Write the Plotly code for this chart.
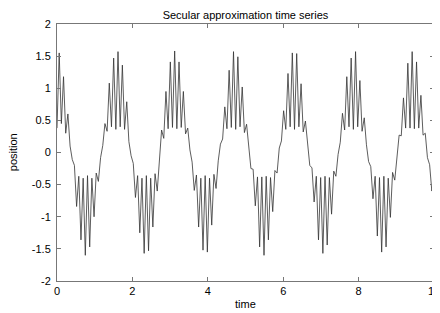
import plotly.graph_objects as go

# Sample times (extrema of the fast oscillation)
time = [
    0.000, 0.058, 0.116, 0.173, 0.231, 0.289, 0.347, 0.405, 0.462, 0.520,
    0.578, 0.636, 0.694, 0.751, 0.809, 0.867, 0.925, 0.983, 1.040, 1.098,
    1.156, 1.214, 1.272, 1.329, 1.387, 1.445, 1.503, 1.561, 1.618, 1.676,
    1.734, 1.792, 1.850, 1.907, 1.965, 2.023, 2.081, 2.139, 2.196, 2.254,
    2.312, 2.370, 2.428, 2.485, 2.543, 2.601, 2.659, 2.717, 2.774, 2.832,
    2.890, 2.948, 3.006, 3.063, 3.121, 3.179, 3.237, 3.295, 3.352, 3.410,
    3.468, 3.526, 3.584, 3.641, 3.699, 3.757, 3.815, 3.873, 3.930, 3.988,
    4.046, 4.104, 4.162, 4.219, 4.277, 4.335, 4.393, 4.451, 4.508, 4.566,
    4.624, 4.682, 4.740, 4.797, 4.855, 4.913, 4.971, 5.029, 5.086, 5.144,
    5.202, 5.260, 5.318, 5.375, 5.433, 5.491, 5.549, 5.607, 5.664, 5.722,
    5.780, 5.838, 5.896, 5.953, 6.011, 6.069, 6.127, 6.185, 6.242, 6.300,
    6.358, 6.416, 6.474, 6.531, 6.589, 6.647, 6.705, 6.763, 6.820, 6.878,
    6.936, 6.994, 7.052, 7.109, 7.167, 7.225, 7.283, 7.341, 7.398, 7.456,
    7.514, 7.572, 7.630, 7.687, 7.745, 7.803, 7.861, 7.919, 7.976, 8.034,
    8.092, 8.150, 8.208, 8.265, 8.323, 8.381, 8.439, 8.497, 8.554, 8.612,
    8.670, 8.728, 8.786, 8.843, 8.901, 8.959, 9.017, 9.075, 9.132, 9.190,
    9.248, 9.306, 9.364, 9.421, 9.479, 9.537, 9.595, 9.653, 9.710, 9.768,
    9.826, 9.884, 9.942, 10.000,
]

position = [
    0.38, 1.55, 0.45, 1.18, 0.30, 0.60, 0.10,
    -0.11, -0.20, -0.84, -0.37, -1.36, -0.40, -1.60, -0.36, -1.47, -0.40, -1.00, -0.32, -0.45, -0.08,
    0.11, 0.45, 0.33, 1.08, 0.40, 1.47, 0.36, 1.57, 0.40, 1.36, 0.36, 0.79, 0.17,
    -0.05, -0.17, -0.70, -0.36, -1.25, -0.40, -1.57, -0.36, -1.53, -0.40, -1.16, -0.33, -0.60, -0.11,
    0.35, 0.22, 0.95, 0.37, 1.41, 0.39, 1.58, 0.37, 1.41, 0.39, 0.95, 0.29, 0.38, 0.04,
    -0.15, -0.59, -0.35, -1.16, -0.40, -1.52, -0.36, -1.55, -0.40, -1.13, -0.34, -0.56, -0.13,
    0.13, 0.21, 0.71, 0.37, 1.28, 0.39, 1.57, 0.36, 1.49, 0.40, 1.02, 0.31, 0.44, 0.07,
    -0.25, -0.26, -0.83, -0.38, -1.47, -0.38, -1.60, -0.37, -1.36, -0.39, -0.92, -0.28, -0.32,
    0.07, 0.18, 0.65, 0.36, 1.23, 0.40, 1.55, 0.36, 1.54, 0.40, 1.07, 0.32, 0.49, 0.10,
    -0.20, -0.24, -0.77, -0.37, -1.36, -0.39, -1.57, -0.37, -1.44, -0.39, -0.96, -0.29, -0.37, -0.03,
    0.16, 0.61, 0.35, 1.18, 0.40, 1.47, 0.36, 1.57, 0.40, 1.12, 0.33, 0.54, 0.12,
    -0.14, -0.22, -0.72, -0.37, -1.30, -0.39, -1.55, -0.37, -1.47, -0.40, -1.01, -0.31, -0.43, -0.06,
    0.27, 0.26, 0.85, 0.38, 1.39, 0.38, 1.57, 0.37, 1.41, 0.38, 0.89, 0.27, 0.30,
    -0.08, -0.19, -0.60, -0.45,
]

x_ticks = [0, 2, 4, 6, 8, 10]
x_tick_labels = ["0", "2", "4", "6", "8", "10"]
y_ticks = [-2, -1.5, -1, -0.5, 0, 0.5, 1, 1.5, 2]
y_tick_labels = ["-2", "-1.5", "-1", "-0.5", "0", "0.5", "1", "1.5", "2"]

title_text = "Secular approximation time series"
x_label = "time"
y_label = "position"

FONT = "Liberation Sans, Arial, Helvetica, sans-serif"
FS = 11
AXIS_COLOR = "#777777"

fig = go.Figure(
    go.Scatter(
        x=time,
        y=position,
        mode="lines",
        line=dict(color="#333333", width=0.8),
        hoverinfo="skip",
    )
)

axis_common = dict(
    showline=True,
    linecolor=AXIS_COLOR,
    linewidth=1,
    mirror="ticks",
    ticks="inside",
    ticklen=4,
    tickwidth=1,
    tickcolor=AXIS_COLOR,
    showgrid=False,
    zeroline=False,
    tickfont=dict(family=FONT, size=FS, color="#000000"),
)

# The page body adds an 8px offset; margins compensate for it.
fig.update_layout(
    width=440,
    height=313,
    margin=dict(l=49, r=8, t=16, b=40),
    paper_bgcolor="white",
    plot_bgcolor="white",
    showlegend=False,
    font=dict(family=FONT, size=FS, color="#000000"),
    title=dict(
        text=title_text,
        font=dict(family=FONT, size=FS, color="#000000"),
        xref="paper",
        x=0.5,
        xanchor="center",
        yref="container",
        y=1 - 7 / 313,
        yanchor="middle",
    ),
    xaxis=dict(
        range=[0, 10],
        tickvals=x_ticks,
        ticktext=x_tick_labels,
        **axis_common,
    ),
    yaxis=dict(
        range=[-2, 2],
        tickvals=y_ticks,
        ticktext=y_tick_labels,
        ticklabelstandoff=3,
        **axis_common,
    ),
    annotations=[
        dict(
            text=x_label,
            xref="paper",
            yref="paper",
            x=0.5,
            y=-23 / 257,
            xanchor="center",
            yanchor="middle",
            showarrow=False,
            font=dict(family=FONT, size=FS, color="#000000"),
        ),
        dict(
            text=y_label,
            xref="paper",
            yref="paper",
            x=-45 / 383,
            y=0.5,
            xanchor="center",
            yanchor="middle",
            textangle=-90,
            showarrow=False,
            font=dict(family=FONT, size=FS, color="#000000"),
        ),
    ],
)

fig.write_html("out.html")
